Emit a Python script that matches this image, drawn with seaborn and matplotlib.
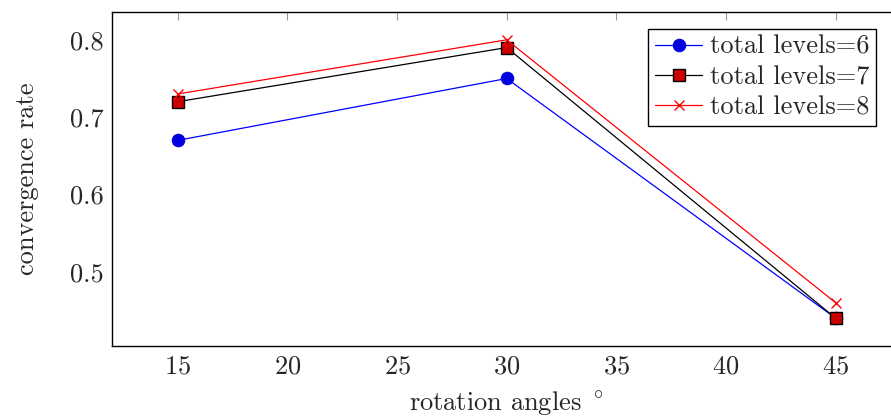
import matplotlib
matplotlib.use("Agg")
import matplotlib.pyplot as plt
import seaborn as sns
import pandas as pd

# dati
angles = [15, 30, 45]
levels6 = [0.67, 0.75, 0.44]
levels7 = [0.72, 0.79, 0.44]
levels8 = [0.73, 0.80, 0.46]
labels = ["total levels=6", "total levels=7", "total levels=8"]

sns.set_style("white")
plt.rcParams['font.family'] = ['cmr10', 'DejaVu Serif']
plt.rcParams['mathtext.fontset'] = 'cm'
plt.rcParams['axes.formatter.use_mathtext'] = True

df = pd.DataFrame({
    "angle": angles * 3,
    "rate": levels6 + levels7 + levels8,
    "serie": [labels[0]] * 3 + [labels[1]] * 3 + [labels[2]] * 3,
})

fig = plt.figure(figsize=(8.91, 4.18), dpi=100)
ax = fig.add_axes([0.1257, 0.1722, 0.886, 0.7991])

stili = {
    labels[0]: dict(color="blue", marker="o", markersize=9, markerfacecolor="#0000dd",
                    markeredgecolor="#0000dd"),
    labels[1]: dict(color="black", marker="s", markersize=8, markerfacecolor="#cc0000",
                    markeredgecolor="black", markeredgewidth=1),
    labels[2]: dict(color="red", marker="x", markersize=7, markeredgewidth=1,
                    markeredgecolor="red"),
}
for lab in labels:
    sub = df[df["serie"] == lab]
    sns.lineplot(data=sub, x="angle", y="rate", ax=ax, label=lab, linewidth=0.9, **stili[lab])

fs = 19
ax.set_xlim(12, 48)
ax.set_ylim(0.404, 0.836)
ax.set_xticks([15, 20, 25, 30, 35, 40, 45])
ax.set_yticks([0.5, 0.6, 0.7, 0.8])
ax.set_yticklabels(["0.5", "0.6", "0.7", "0.8"])
ax.tick_params(direction="in", length=6, width=0.8, color="0.6", top=True, right=True,
               labelsize=fs, pad=6)
for s in ax.spines.values():
    s.set_color("black")
    s.set_linewidth(1)

ax.set_xlabel(r"rotation angles $^\circ$", fontsize=fs, labelpad=8)
ax.set_ylabel("convergence rate", fontsize=fs, labelpad=22)

leg = ax.legend(loc="upper right", fontsize=fs, frameon=True, fancybox=False,
                edgecolor="black", borderpad=0.25, labelspacing=0.25, handlelength=1.8,
                handletextpad=0.3, borderaxespad=0.5, bbox_to_anchor=(0.985, 0.99))
leg.get_frame().set_linewidth(1)
leg.get_frame().set_alpha(1)

fig.savefig("out.png", dpi=100)
